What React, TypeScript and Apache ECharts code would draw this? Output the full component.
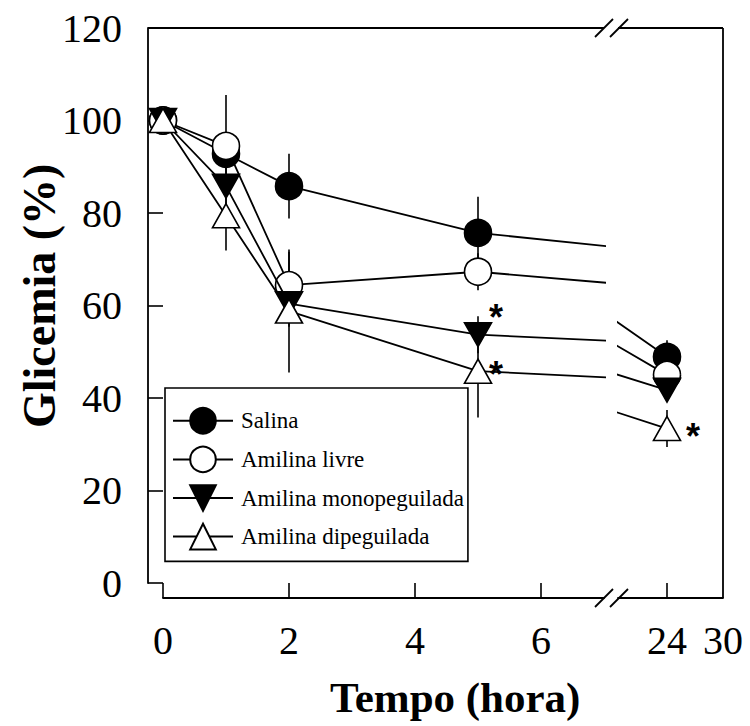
import React, { useEffect, useRef } from 'react';
import * as echarts from 'echarts';

// ---- data ----
const hours = [0, 1, 2, 5, 24];
const seriesNames = ['Salina', 'Amilina livre', 'Amilina monopeguilada', 'Amilina dipeguilada'];
const salina = [100, 92.8, 85.8, 75.7, 48.9];
const salinaSd = [0, 3, 7, 7.8, 3.6];
const livre = [100, 94.5, 64.4, 67.3, 45];
const livreSd = [0, 11, 7.2, 4, 2];
const mono = [100, 85.8, 60.4, 53.7, 41.7];
const monoSd = [0, 6.5, 5, 4, 2];
const di = [100, 79.4, 58.8, 45.8, 33.4];
const diSd = [0, 7.5, 13.3, 10, 4];
const salinaStar = [false, false, false, false, false];
const livreStar = [false, false, false, false, false];
const monoStar = [false, false, false, true, false];
const diStar = [false, false, false, true, true];
const xTicksLeft = [0, 2, 4, 6];
const xTicksRight = [24, 30];
const xTickRightMarks = [24];

// ---- layout ----
const FONT = '"Liberation Serif", "Times New Roman", serif';
const LAY = { axisX: 148, x0: 163, breakL: 604, breakR: 618, right: 723, top: 28, y0: 583, axisY: 598 };
const SEG = [
  { min: 0, max: 7 },
  { min: 18.75, max: 30 },
];

export default function App() {
  const ref = useRef<HTMLDivElement>(null);
  useEffect(() => {
    if (!ref.current) return;
    const chart = echarts.init(ref.current, null, { renderer: 'svg' });

    const groups = [
      { name: seriesNames[0], v: salina, sd: salinaSd, star: salinaStar, symbol: 'circle', size: 27, fill: '#000' },
      { name: seriesNames[1], v: livre, sd: livreSd, star: livreStar, symbol: 'circle', size: 27, fill: '#fff' },
      { name: seriesNames[2], v: mono, sd: monoSd, star: monoStar, symbol: 'path://M0,0L2,0L1,1.8Z', size: [27, 24], fill: '#000' },
      { name: seriesNames[3], v: di, sd: diSd, star: diStar, symbol: 'triangle', size: [27, 24], fill: '#fff' },
    ];
    const starOffsets: Record<string, number[]> = {
      '2-5': [18, -17],
      '3-5': [18, 3],
      '3-24': [26, 8],
    };

    const series: any[] = [];
    [0, 1].forEach((g) => {
      groups.forEach((s) => {
        const eb = hours
          .map((h, i) => [h, s.v[i], s.sd[i]])
          .filter((d) => d[2] > 0 && d[0] >= SEG[g].min && d[0] <= SEG[g].max);
        series.push({
          type: 'custom',
          xAxisIndex: g,
          yAxisIndex: g,
          z: 1,
          silent: true,
          data: eb,
          encode: { x: 0, y: 1 },
          renderItem: (params: any, api: any) => {
            const x = api.value(0);
            const m = api.value(1);
            const sd = api.value(2);
            const p1 = api.coord([x, m + sd]);
            const p2 = api.coord([x, m - sd]);
            return {
              type: 'line',
              shape: { x1: p1[0], y1: p1[1], x2: p2[0], y2: p2[1] },
              style: { stroke: '#000', lineWidth: 1.6 },
            };
          },
        });
      });
    });
    [0, 1].forEach((g) => {
      groups.forEach((s, si) => {
        series.push({
          type: 'line',
          name: s.name,
          xAxisIndex: g,
          yAxisIndex: g,
          z: 2 + si,
          clip: true,
          symbol: s.symbol,
          symbolSize: s.size,
          itemStyle: { color: s.fill, borderColor: '#000', borderWidth: 1.6 },
          lineStyle: { color: '#000', width: 1.8 },
          data: hours.map((h, i) => {
            const inRange = h >= SEG[g].min && h <= SEG[g].max;
            const item: any = { value: [h, s.v[i]] };
            if (s.star[i] && inRange) {
              const off = starOffsets[si + '-' + h] || [18, 0];
              item.label = {
                show: true,
                formatter: '*',
                position: 'inside',
                offset: off,
                fontFamily: '"Liberation Sans", Arial, sans-serif',
                fontWeight: 'bold',
                fontSize: 36,
                color: '#000',
              };
            }
            return item;
          }),
        });
      });
    });

    const lineEl = (x1: number, y1: number, x2: number, y2: number) => ({
      type: 'line',
      shape: { x1, y1, x2, y2 },
      style: { stroke: '#000', lineWidth: 1.8 },
      z: 10,
    });
    const graphics: any[] = [
      lineEl(LAY.axisX, LAY.top, LAY.breakL, LAY.top),
      lineEl(LAY.breakR, LAY.top, LAY.right, LAY.top),
      lineEl(LAY.right, LAY.top, LAY.right, LAY.axisY),
    ];
    [LAY.top, LAY.axisY].forEach((y) => {
      [LAY.breakL, LAY.breakR + 1].forEach((c) => {
        graphics.push(lineEl(c - 9, y + 9, c + 9, y - 9));
      });
    });
    graphics.push({
      type: 'text',
      left: 330,
      top: 676,
      style: { text: 'Tempo (hora)', font: 'bold 43px ' + FONT, fill: '#000' },
    });
    graphics.push({
      type: 'text',
      x: 16,
      y: 428,
      rotation: Math.PI / 2,
      style: { text: 'Glicemia (%)', font: 'bold 46px ' + FONT, fill: '#000', textVerticalAlign: 'top' },
    });

    const axisLabelStyle = { fontFamily: FONT, fontSize: 40, color: '#000' };
    const axisLineStyle = { show: true, onZero: false, lineStyle: { color: '#000', width: 1.8 } };
    const option: any = {
      animation: false,
      backgroundColor: '#fff',
      grid: [
        { left: LAY.x0, top: LAY.top, width: LAY.breakL - LAY.x0, height: LAY.y0 - LAY.top },
        { left: LAY.breakR, top: LAY.top, width: LAY.right - LAY.breakR, height: LAY.y0 - LAY.top },
      ],
      xAxis: [
        {
          type: 'value',
          gridIndex: 0,
          min: SEG[0].min,
          max: SEG[0].max,
          position: 'bottom',
          offset: LAY.axisY - LAY.y0,
          axisLine: axisLineStyle,
          axisTick: { show: true, inside: true, length: 15, customValues: xTicksLeft, lineStyle: { color: '#000', width: 1.6 } },
          axisLabel: { show: true, margin: 22, customValues: xTicksLeft, ...axisLabelStyle },
          splitLine: { show: false },
        },
        {
          type: 'value',
          gridIndex: 1,
          min: SEG[1].min,
          max: SEG[1].max,
          position: 'bottom',
          offset: LAY.axisY - LAY.y0,
          axisLine: axisLineStyle,
          axisTick: { show: true, inside: true, length: 15, customValues: xTickRightMarks, lineStyle: { color: '#000', width: 1.6 } },
          axisLabel: { show: true, margin: 22, customValues: xTicksRight, ...axisLabelStyle },
          splitLine: { show: false },
        },
      ],
      yAxis: [
        {
          type: 'value',
          gridIndex: 0,
          min: 0,
          max: 120,
          interval: 20,
          position: 'left',
          offset: LAY.x0 - LAY.axisX,
          axisLine: axisLineStyle,
          axisTick: { show: true, inside: true, length: 15, lineStyle: { color: '#000', width: 1.6 } },
          axisLabel: { show: true, margin: 26, ...axisLabelStyle },
          splitLine: { show: false },
        },
        {
          type: 'value',
          gridIndex: 1,
          min: 0,
          max: 120,
          show: false,
        },
      ],
      legend: {
        data: seriesNames,
        orient: 'vertical',
        left: 165,
        top: 388,
        padding: [19, 4, 11, 7],
        itemWidth: 60,
        itemHeight: 32,
        itemGap: 11,
        borderColor: '#000',
        borderWidth: 1.6,
        backgroundColor: '#fff',
        selectedMode: false,
        textStyle: { fontFamily: FONT, fontSize: 23, color: '#000', padding: [0, 0, 0, 3] },
        z: 20,
      },
      graphic: graphics,
      series,
    };
    chart.setOption(option);
    return () => chart.dispose();
  }, []);
  return <div ref={ref} style={{ position: 'fixed', left: 0, top: 0, width: 750, height: 726 }} />;
}
